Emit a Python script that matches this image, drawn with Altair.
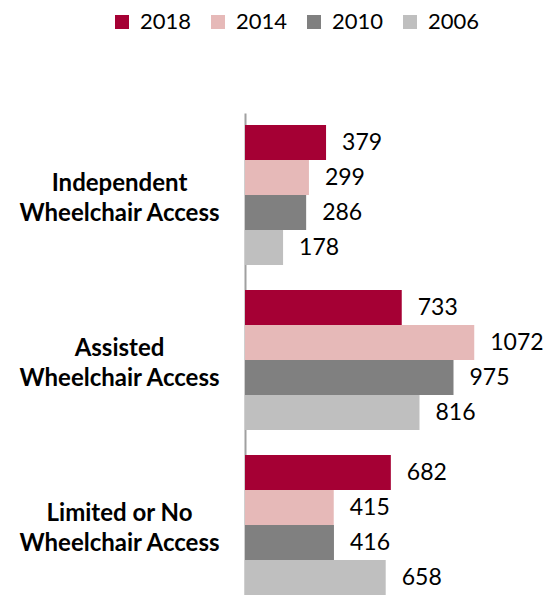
import altair as alt
import pandas as pd

categories = ["Independent Wheelchair Access", "Assisted Wheelchair Access", "Limited or No Wheelchair Access"]
years = ["2018", "2014", "2010", "2006"]
values_2018 = [379, 733, 682]
values_2014 = [299, 1072, 415]
values_2010 = [286, 975, 416]
values_2006 = [178, 816, 658]
colors = ["#A50034", "#E6B9B8", "#808080", "#BFBFBF"]

series = {"2018": values_2018, "2014": values_2014, "2010": values_2010, "2006": values_2006}
rows = []
for y in years:
    for c, v in zip(categories, series[y]):
        rows.append({"category": c, "year": y, "value": v})
df = pd.DataFrame(rows)

FONT = "Lato"

y_enc = alt.Y(
    "category:N",
    sort=categories,
    scale=alt.Scale(paddingInner=0.1515, paddingOuter=0.0364, align=1),
    axis=alt.Axis(
        title=None,
        ticks=False,
        tickSize=0,
        grid=False,
        domain=True,
        domainColor="#A0A0A0",
        domainWidth=2,
        labelAlign="center",
        labelBaseline="middle",
        labelPadding=126,
        labelOffset=-11,
        labelFont=FONT,
        labelFontSize=24,
        labelFontWeight="bold",
        labelColor="#000000",
        labelLineHeight=30,
        labelLimit=300,
        labelExpr="split(replace(datum.value, ' Wheelchair', '|Wheelchair'), '|')",
    ),
)
yoff = alt.YOffset("year:N", sort=years, scale=alt.Scale(paddingInner=0, paddingOuter=0))
x_enc = alt.X("value:Q", scale=alt.Scale(domain=[0, 1300]), axis=None)

bars = alt.Chart(df).mark_bar(cornerRadius=0).encode(
    y=y_enc,
    yOffset=yoff,
    x=x_enc,
    color=alt.Color(
        "year:N",
        sort=years,
        scale=alt.Scale(domain=years, range=colors),
        legend=alt.Legend(
            title=None,
            orient="none",
            direction="horizontal",
            legendX=-134,
            legendY=-102,
            symbolType="square",
            symbolSize=196,
            symbolStrokeWidth=0,
            labelFont=FONT,
            labelFontSize=22,
            labelColor="#000000",
            labelOffset=7,
            columnPadding=15,
            padding=0,
        ),
    ),
)

labels = alt.Chart(df).mark_text(
    align="left", baseline="middle", dx=16, font=FONT, fontSize=23, color="#000000"
).encode(
    y=alt.Y("category:N", sort=categories),
    yOffset=alt.YOffset("year:N", sort=years),
    x="value:Q",
    text="value:Q",
)

chart = (
    alt.layer(bars, labels)
    .properties(
        width=278,
        height=482,
        autosize=alt.AutoSizeParams(type="none"),
        padding={"left": 237, "top": 105, "right": 23, "bottom": 0},
        background="white",
    )
    .configure_view(stroke=None)
)

chart.save("out.html", embed_options={"renderer": "svg", "actions": False})
